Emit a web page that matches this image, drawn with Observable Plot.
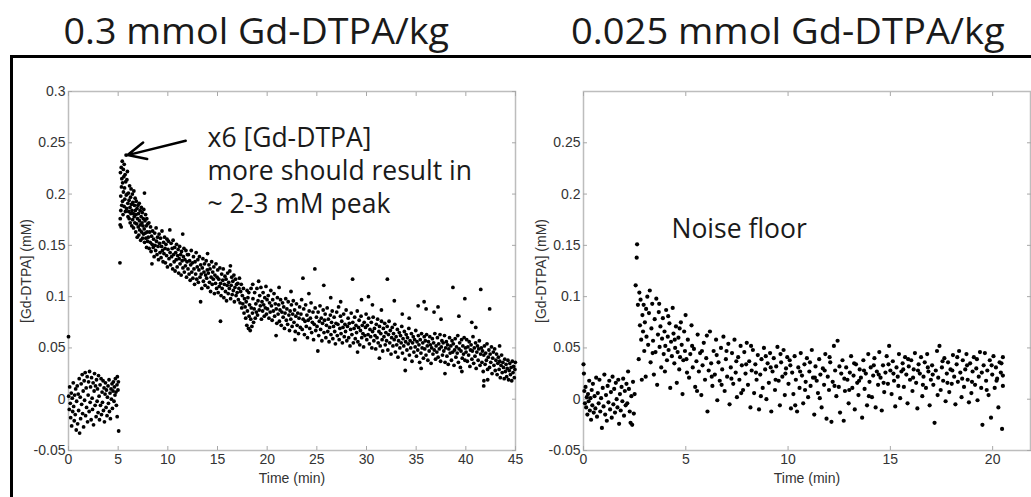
<!DOCTYPE html>
<html><head><meta charset="utf-8">
<script src="https://cdn.jsdelivr.net/npm/d3@7"></script>
<script src="https://cdn.jsdelivr.net/npm/@observablehq/plot@0.6"></script>
<style>
html,body{margin:0;padding:0;background:#fff;}
#wrap{position:relative;width:1031px;height:497px;overflow:hidden;background:#fff;}
.title{position:absolute;top:6px;left:0;font-family:"Open Sans";font-size:36px;color:#1a1a1a;white-space:nowrap;transform-origin:center;line-height:normal;}
#box{position:absolute;left:10px;top:55px;width:1100px;height:520px;border:3px solid #000;box-sizing:border-box;pointer-events:none;}
.panel{position:absolute;top:0;}
</style></head><body>
<div id="wrap">
 <div class="title" id="t1"></div>
 <div class="title" id="t2"></div>
 <div class="panel" id="p1" style="left:0"></div>
 <div class="panel" id="p2" style="left:515px"></div>
 <div id="box"></div>
</div>
<script>
// ---------- tick labels & titles ----------
const yTicks = [-0.05, 0, 0.05, 0.1, 0.15, 0.2, 0.25, 0.3];
const yTicksRight = [-0.05, 0, 0.05, 0.1, 0.15, 0.2, 0.25];
const xTicksLeft = [0, 5, 10, 15, 20, 25, 30, 35, 40, 45];
const xTicksRight = [0, 5, 10, 15, 20];
const titles = ["0.3 mmol Gd-DTPA/kg", "0.025 mmol Gd-DTPA/kg"];

// ---------- left panel: 0.3 mmol/kg  [time (min), Gd-DTPA (mM)] ----------
const leftBaseline = [[0,0.061],[0.02,0.003],[0.08,-0.010],[0.12,0.012],[0.18,-0.004],[0.22,-0.018],[0.28,0.006],[0.32,-0.026],[0.38,0.001],[0.42,-0.012],[0.48,0.016],[0.52,-0.007],[0.58,-0.021],[0.62,0.004],[0.68,-0.015],[0.72,0.010],[0.78,-0.030],[0.82,-0.002],[0.88,0.013],[0.92,-0.024],[0.98,0.005],[1.02,-0.011],[1.08,0.020],[1.12,-0.033],[1.18,0.002],[1.22,-0.019],[1.28,0.015],[1.32,-0.005],[1.38,0.024],[1.42,-0.014],[1.48,0.008],[1.52,-0.027],[1.58,0.018],[1.62,-0.001],[1.68,0.026],[1.72,-0.016],[1.78,0.011],[1.82,-0.008],[1.88,0.022],[1.92,-0.022],[1.98,0.004],[2.02,0.017],[2.08,-0.012],[2.12,0.027],[2.18,-0.003],[2.22,0.012],[2.28,-0.020],[2.32,0.021],[2.38,0.001],[2.42,-0.010],[2.48,0.016],[2.52,-0.025],[2.58,0.008],[2.62,0.025],[2.68,-0.006],[2.72,0.013],[2.78,-0.017],[2.82,0.019],[2.88,-0.002],[2.92,0.010],[2.98,-0.013],[3.02,0.023],[3.08,0.003],[3.12,-0.020],[3.18,0.014],[3.22,-0.006],[3.28,0.020],[3.32,-0.015],[3.38,0.007],[3.42,-0.003],[3.48,0.018],[3.52,-0.011],[3.58,0.011],[3.62,-0.022],[3.68,0.005],[3.72,0.016],[3.78,-0.008],[3.82,0.009],[3.88,-0.016],[3.92,0.002],[3.98,0.013],[4.02,-0.004],[4.08,0.019],[4.12,-0.012],[4.18,0.006],[4.22,-0.019],[4.28,0.010],[4.32,0.000],[4.38,0.015],[4.42,-0.009],[4.48,0.008],[4.52,0.017],[4.58,-0.002],[4.62,0.012],[4.68,0.004],[4.72,0.020],[4.78,0.007],[4.82,-0.006],[4.88,0.014],[4.9,-0.017],[4.92,0.022],[4.98,0.009],[5.02,0.017],[5.05,-0.031]];

const leftPeak = [[5.18,0.133],[5.2,0.17],[5.21,0.176],[5.23,0.221],[5.26,0.198],[5.27,0.184],[5.3,0.168],[5.31,0.226],[5.33,0.207],[5.36,0.189],[5.37,0.215],[5.41,0.232],[5.44,0.193],[5.45,0.211],[5.49,0.18],[5.52,0.224],[5.53,0.202],[5.57,0.217],[5.6,0.188],[5.61,0.229],[5.64,0.206],[5.67,0.195],[5.7,0.219],[5.73,0.183],[5.76,0.212],[5.8,0.238],[5.81,0.199],[5.84,0.186],[5.88,0.214],[5.9,0.2],[5.93,0.222],[5.97,0.191],[5.99,0.178],
[6.03,0.201],[6.06,0.183],[6.1,0.194],[6.11,0.176],[6.15,0.208],[6.19,0.187],[6.21,0.172],[6.25,0.197],[6.28,0.181],[6.3,0.205],[6.34,0.19],[6.37,0.169],[6.39,0.184],[6.43,0.2],[6.46,0.175],[6.48,0.192],[6.53,0.181],[6.55,0.167],[6.58,0.203],[6.62,0.178],[6.64,0.189],[6.68,0.172],[6.71,0.196],[6.73,0.184],[6.77,0.163],[6.8,0.18],[6.82,0.193],[6.86,0.171],[6.9,0.186],[6.92,0.158],[6.95,0.176],[6.99,0.189],[7.02,0.168],[7.05,0.181],[7.08,0.16],[7.12,0.191],[7.14,0.174],[7.17,0.165],[7.21,0.184],[7.24,0.17],[7.27,0.155],[7.31,0.178],[7.33,0.187],[7.36,0.163],[7.4,0.172],[7.43,0.182],[7.46,0.157],[7.49,0.169],[7.53,0.176],[7.55,0.161],[7.58,0.185],[7.62,0.166],[7.65,0.201],[7.66,0.153],[7.7,0.174],[7.73,0.162],[7.76,0.18],[7.79,0.157],[7.83,0.169],[7.86,0.148],[7.88,0.176],[7.92,0.163],[7.96,0.154],[7.98,0.171]];

const leftEarly = [[8.03,0.158],[8.09,0.172],[8.12,0.147],[8.17,0.163],[8.22,0.153],[8.26,0.168],[8.31,0.144],[8.36,0.159],[8.4,0.132],[8.42,0.151],[8.47,0.164],[8.53,0.148],[8.57,0.156],[8.62,0.139],[8.68,0.162],[8.71,0.15],[8.77,0.145],[8.82,0.167],[8.86,0.154],[8.91,0.141],[8.97,0.158],[9.02,0.149],[9.06,0.136],[9.12,0.161],[9.17,0.152],[9.21,0.143],[9.26,0.157],[9.32,0.138],[9.37,0.149],[9.41,0.164],[9.46,0.145],[9.52,0.134],[9.57,0.153],[9.61,0.142],[9.67,0.158],[9.72,0.147],[9.76,0.133],[9.81,0.151],[9.87,0.14],[9.92,0.156],[9.96,0.129],[10.02,0.146],[10.07,0.154],[10.12,0.137],[10.2,0.165],[10.23,0.143],[10.28,0.131],[10.33,0.152],[10.38,0.139],[10.44,0.147],[10.49,0.127],[10.53,0.155],[10.58,0.141],[10.64,0.134],[10.69,0.148],[10.73,0.125],[10.79,0.143],[10.84,0.136],[10.88,0.151],[10.94,0.129],[10.99,0.14],[11.04,0.146],[11.09,0.123],[11.14,0.137],[11.19,0.149],[11.23,0.132],[11.29,0.141],[11.34,0.121],[11.38,0.144],[11.44,0.135],[11.5,0.161],[11.52,0.128],[11.57,0.139],[11.62,0.147],[11.66,0.124],[11.72,0.136],[11.77,0.13],[11.82,0.145],[11.88,0.119],[11.93,0.134],[11.97,0.141],
[12.03,0.127],[12.08,0.141],[12.14,0.122],[12.19,0.135],[12.25,0.116],[12.3,0.131],[12.36,0.145],[12.41,0.124],[12.47,0.133],[12.52,0.118],[12.58,0.139],[12.63,0.127],[12.69,0.112],[12.74,0.134],[12.8,0.122],[12.85,0.143],[12.91,0.117],[12.96,0.129],[13.02,0.136],[13.07,0.114],[13.13,0.126],[13.18,0.139],[13.24,0.119],[13.3,0.095],[13.31,0.131],[13.36,0.122],[13.42,0.108],[13.47,0.128],[13.53,0.137],[13.58,0.115],[13.64,0.124],[13.69,0.132],[13.75,0.111],[13.8,0.121],[13.86,0.135],[13.91,0.118],[13.97,0.126],[14.0,0.142],[14.03,0.109],[14.08,0.123],[14.14,0.131],[14.19,0.114],[14.25,0.127],[14.3,0.105],[14.36,0.119],[14.41,0.134],[14.47,0.112],[14.52,0.124],[14.58,0.117],[14.63,0.129],[14.69,0.103],[14.74,0.121],[14.8,0.113],[14.85,0.132],[14.91,0.108],[14.96,0.119],[15.02,0.126],[15.07,0.104],[15.13,0.117],[15.18,0.11],[15.24,0.128],[15.3,0.076],[15.31,0.113],[15.36,0.101],[15.42,0.122],[15.47,0.108],[15.53,0.116],[15.58,0.127],[15.64,0.099],[15.69,0.112],[15.75,0.12],[15.8,0.105],[15.86,0.117],[15.91,0.096],[15.97,0.111],[16.02,0.123],[16.08,0.103],[16.13,0.114],[16.19,0.108],[16.24,0.125],[16.3,0.13],[16.32,0.098],[16.37,0.111],[16.43,0.119],[16.48,0.102],[16.54,0.115],[16.59,0.106],[16.65,0.121],[16.7,0.095],[16.76,0.109],[16.81,0.117],[16.87,0.101],[16.92,0.112],[16.98,0.104],
[17.04,0.113],[17.1,0.097],[17.16,0.108],[17.21,0.118],[17.27,0.094],[17.33,0.105],[17.39,0.112],[17.44,0.089],[17.5,0.101],[17.55,0.093],[17.61,0.108],[17.67,0.084],[17.72,0.098],[17.78,0.09],[17.84,0.079],[17.89,0.095],[17.95,0.072],[17.98,0.106],[18.01,0.086],[18.06,0.099],[18.12,0.069],[18.15,0.104],[18.18,0.081],[18.23,0.092],[18.29,0.067],[18.35,0.078],[18.38,0.108],[18.4,0.089],[18.46,0.071],[18.52,0.084],[18.55,0.112],[18.57,0.098],[18.63,0.075],[18.69,0.088],[18.74,0.104],[18.8,0.079],[18.86,0.093],[18.91,0.085],[18.97,0.108],[19.03,0.082],[19.08,0.096],[19.14,0.115],[19.2,0.087],[19.25,0.101],[19.31,0.091],[19.37,0.109],[19.42,0.078],[19.48,0.095],[19.54,0.086],[19.59,0.104],[19.65,0.092],[19.71,0.081],[19.76,0.099],[19.82,0.089],[19.88,0.11],[19.93,0.083],[19.99,0.097]];

const leftLate = [[20.04,0.088],[20.11,0.101],[20.18,0.079],[20.24,0.094],[20.3,0.085],[20.37,0.106],[20.43,0.091],[20.5,0.077],[20.56,0.097],[20.62,0.086],[20.69,0.103],[20.75,0.081],[20.82,0.093],[20.9,0.062],[20.91,0.088],[20.97,0.074],[21.03,0.099],[21.1,0.083],[21.16,0.092],[21.2,0.109],[21.23,0.076],[21.29,0.087],[21.35,0.097],[21.42,0.072],[21.48,0.085],[21.55,0.094],[21.61,0.08],[21.67,0.09],[21.74,0.069],[21.8,0.084],[21.87,0.098],[21.93,0.077],[21.99,0.088],[22.06,0.073],[22.12,0.095],[22.19,0.082],[22.25,0.067],[22.31,0.086],[22.38,0.078],[22.4,0.105],[22.44,0.092],[22.51,0.071],[22.57,0.083],[22.63,0.096],[22.7,0.075],[22.76,0.087],[22.8,0.058],[22.83,0.066],[22.89,0.081],[22.95,0.093],[23.02,0.072],[23.08,0.084],[23.15,0.064],[23.21,0.079],[23.27,0.09],[23.34,0.07],[23.4,0.083],[23.47,0.097],[23.53,0.068],[23.6,0.118],[23.62,0.078],[23.68,0.088],[23.75,0.063],[23.81,0.076],[23.87,0.092],[23.94,0.071],[24.0,0.082],[24.06,0.06],[24.13,0.077],[24.2,0.103],[24.23,0.086],[24.29,0.069],[24.35,0.079],[24.42,0.094],[24.48,0.065],[24.55,0.075],[24.61,0.085],[24.67,0.058],[24.74,0.073],[24.8,0.127],[24.83,0.089],[24.89,0.067],[24.96,0.08],[25.02,0.071],[25.1,0.047],[25.13,0.085],[25.19,0.062],[25.25,0.076],[25.32,0.091],[25.38,0.068],[25.45,0.079],[25.51,0.057],[25.57,0.074],[25.64,0.087],[25.7,0.111],[25.72,0.065],[25.78,0.077],[25.84,0.083],[25.91,0.06],[25.97,0.072],[26.04,0.089],[26.1,0.066],[26.16,0.078],[26.23,0.056],[26.29,0.07],[26.36,0.082],[26.4,0.099],[26.42,0.063],[26.48,0.075],[26.55,0.086],[26.61,0.059],[26.68,0.071],[26.74,0.08],[26.8,0.066],[26.87,0.054],[26.93,0.074],[27.0,0.085],[27.06,0.062],[27.12,0.073],[27.19,0.09],[27.25,0.058],[27.32,0.069],[27.38,0.081],[27.4,0.095],[27.44,0.064],[27.51,0.076],[27.57,0.055],[27.63,0.07],[27.7,0.083],[27.76,0.061],[27.83,0.073],[27.89,0.066],[27.95,0.087],[28.02,0.057],[28.08,0.071],[28.15,0.079],[28.21,0.06],[28.27,0.074],[28.34,0.052],[28.4,0.068],[28.46,0.084],[28.53,0.063],[28.6,0.117],[28.62,0.075],[28.68,0.055],[28.75,0.069],[28.81,0.08],[28.87,0.059],[28.94,0.072],[29.0,0.065],[29.07,0.086],[29.1,0.046],[29.13,0.056],[29.2,0.07],[29.26,0.077],[29.32,0.053],[29.39,0.067],[29.45,0.081],[29.5,0.097],[29.52,0.06],[29.58,0.072],[29.64,0.064],[29.71,0.051],[29.77,0.075],[29.84,0.062],[29.9,0.07],[29.96,0.083],
[30.03,0.058],[30.09,0.072],[30.16,0.063],[30.2,0.1],[30.22,0.079],[30.29,0.054],[30.35,0.068],[30.42,0.061],[30.48,0.075],[30.54,0.05],[30.6,0.092],[30.61,0.066],[30.67,0.08],[30.74,0.057],[30.8,0.069],[30.86,0.062],[30.93,0.049],[30.99,0.073],[31.06,0.06],[31.12,0.078],[31.18,0.055],[31.25,0.066],[31.3,0.04],[31.31,0.071],[31.38,0.052],[31.44,0.064],[31.5,0.087],[31.51,0.076],[31.57,0.058],[31.63,0.047],[31.7,0.069],[31.76,0.061],[31.83,0.074],[31.89,0.053],[31.95,0.065],[32.02,0.057],[32.08,0.071],[32.1,0.117],[32.15,0.048],[32.21,0.063],[32.27,0.076],[32.34,0.055],[32.4,0.067],[32.47,0.044],[32.53,0.06],[32.59,0.07],[32.66,0.052],[32.72,0.064],[32.79,0.058],[32.8,0.096],[32.85,0.073],[32.91,0.046],[32.98,0.061],[33.04,0.053],[33.11,0.068],[33.17,0.041],[33.23,0.057],[33.3,0.065],[33.36,0.05],[33.43,0.062],[33.49,0.055],[33.55,0.071],[33.6,0.083],[33.62,0.045],[33.68,0.059],[33.75,0.052],[33.81,0.066],[33.88,0.039],[33.9,0.028],[33.94,0.056],[34.0,0.063],[34.07,0.048],[34.13,0.06],[34.2,0.054],[34.26,0.069],[34.3,0.079],[34.32,0.043],[34.39,0.057],[34.45,0.05],[34.52,0.064],[34.58,0.037],[34.64,0.055],[34.71,0.061],[34.77,0.046],[34.84,0.058],[34.9,0.051],[34.96,0.067],[35.03,0.042],[35.09,0.056],[35.16,0.048],[35.2,0.091],[35.22,0.062],[35.28,0.053],[35.35,0.036],[35.41,0.058],[35.48,0.045],[35.5,0.03],[35.54,0.064],[35.6,0.05],[35.67,0.055],[35.73,0.04],[35.8,0.095],[35.81,0.061],[35.86,0.049],[35.92,0.057],[35.99,0.043],[36.0,0.088],[36.05,0.063],[36.12,0.052],[36.18,0.038],[36.24,0.056],[36.31,0.047],[36.37,0.061],[36.44,0.053],[36.5,0.035],[36.56,0.05],[36.63,0.059],[36.69,0.044],[36.76,0.055],[36.8,0.085],[36.82,0.048],[36.88,0.064],[36.95,0.039],[37.01,0.052],[37.08,0.046],[37.14,0.06],[37.2,0.09],[37.21,0.041],[37.27,0.054],[37.33,0.049],[37.4,0.063],[37.46,0.037],[37.5,0.078],[37.53,0.051],[37.59,0.057],[37.65,0.043],[37.72,0.055],[37.78,0.047],[37.85,0.062],[37.9,0.025],[37.91,0.036],[37.97,0.05],[38.04,0.056],[38.1,0.042],[38.17,0.053],[38.23,0.034],[38.29,0.049],[38.36,0.06],[38.42,0.045],[38.49,0.052],[38.55,0.038],[38.61,0.057],[38.68,0.046],[38.7,0.109],[38.74,0.054],[38.81,0.033],[38.87,0.048],[38.93,0.059],[39.0,0.041],[39.06,0.051],[39.13,0.045],[39.19,0.062],[39.25,0.036],[39.3,0.081],[39.32,0.049],[39.38,0.055],[39.45,0.031],[39.51,0.047],[39.57,0.058],[39.6,0.027],[39.64,0.04],[39.7,0.052],[39.77,0.044],[39.83,0.06],[39.9,0.098],[39.91,0.038],[39.96,0.05],
[40.02,0.046],[40.09,0.058],[40.15,0.037],[40.21,0.051],[40.28,0.043],[40.34,0.056],[40.41,0.032],[40.47,0.048],[40.53,0.053],[40.6,0.075],[40.61,0.039],[40.66,0.047],[40.72,0.061],[40.79,0.035],[40.85,0.05],[40.92,0.042],[40.98,0.055],[41.0,0.07],[41.04,0.03],[41.11,0.046],[41.17,0.052],[41.24,0.038],[41.3,0.049],[41.36,0.057],[41.43,0.033],[41.49,0.044],[41.5,0.107],[41.56,0.05],[41.62,0.036],[41.68,0.047],[41.75,0.027],[41.8,0.013],[41.82,0.018],[41.81,0.043],[41.87,0.052],[41.94,0.034],[42.0,0.045],[42.07,0.038],[42.13,0.054],[42.2,0.019],[42.19,0.029],[42.26,0.041],[42.32,0.048],[42.39,0.031],[42.4,0.088],[42.45,0.044],[42.51,0.036],[42.58,0.051],[42.64,0.025],[42.71,0.04],[42.77,0.046],[42.83,0.033],[42.9,0.049],[42.96,0.028],[43.03,0.038],[43.09,0.044],[43.15,0.024],[43.22,0.035],[43.28,0.041],[43.35,0.029],[43.4,0.052],[43.41,0.037],[43.47,0.021],[43.54,0.033],[43.6,0.043],[43.66,0.026],[43.73,0.036],[43.79,0.031],[43.86,0.02],[43.92,0.039],[43.98,0.027],[44.05,0.034],[44.11,0.022],[44.17,0.03],[44.24,0.038],[44.3,0.019],[44.37,0.028],[44.43,0.035],[44.49,0.024],[44.56,0.031],[44.62,0.018],[44.68,0.037],[44.75,0.026],[44.81,0.032],[44.88,0.021],[44.94,0.029],[44.98,0.036]];

// ---------- right panel: 0.025 mmol/kg ----------
const rightBaseline = [[0.0,0.034],[0.02,0.025],[0.04,0.008],[0.07,-0.004],[0.1,0.012],[0.13,-0.008],[0.16,0.002],[0.19,-0.015],[0.22,0.005],[0.25,-0.002],[0.28,0.018],[0.31,-0.011],[0.34,0.001],[0.37,-0.02],[0.4,0.009],[0.43,-0.006],[0.46,0.015],[0.5,-0.013],[0.54,0.003],[0.58,-0.009],[0.62,0.021],[0.66,-0.017],[0.7,0.006],[0.74,-0.004],[0.78,0.019],[0.82,-0.012],[0.86,0.001],[0.9,-0.028],[0.94,0.011],[0.98,-0.007],[1.02,0.024],[1.06,-0.015],[1.1,0.004],[1.14,-0.021],[1.18,0.013],[1.22,-0.003],[1.26,0.018],[1.3,-0.01],[1.34,0.007],[1.38,-0.018],[1.42,0.022],[1.46,-0.005],[1.5,0.01],[1.54,-0.013],[1.58,0.016],[1.62,0.0],[1.66,-0.008],[1.7,0.019],[1.74,-0.024],[1.78,0.005],[1.82,-0.011],[1.86,0.012],[1.9,-0.002],[1.94,0.02],[1.98,-0.016],[2.02,0.008],[2.06,-0.006],[2.1,0.015],[2.14,-0.004],[2.18,0.027],[2.22,0.01],[2.26,-0.012],[2.3,-0.023],[2.34,0.003],[2.38,-0.025],[2.42,0.017],[2.46,-0.014],[2.5,0.005]];

const rightWashout = [[2.55,0.111],[2.6,0.138],[2.62,0.151],[2.66,0.092],[2.7,0.039],[2.73,0.104],[2.76,0.072],[2.79,0.097],[2.82,0.058],[2.85,0.019],[2.88,0.082],[2.91,0.066],[2.94,0.092],[2.97,0.047],[3.0,0.075],[3.04,0.022],[3.08,0.061],[3.12,0.1],[3.16,0.053],[3.2,0.084],[3.24,0.106],[3.28,0.036],[3.32,0.069],[3.36,0.093],[3.4,0.057],[3.44,0.024],[3.48,0.078],[3.52,0.046],[3.56,0.098],[3.6,0.014],[3.64,0.063],[3.68,0.085],[3.72,0.051],[3.76,0.071],[3.8,0.031],[3.84,0.059],[3.88,0.079],[3.92,0.044],[3.96,0.066],[4.0,0.052],[4.04,0.087],[4.08,0.038],[4.12,0.061],[4.16,0.048],[4.2,0.074],[4.24,0.011],[4.28,0.056],[4.32,0.042],[4.36,0.089],[4.4,0.064],[4.44,0.035],[4.48,0.05],[4.52,0.071],[4.56,0.016],[4.6,0.046],[4.64,0.06],[4.68,0.029],[4.72,0.041],[4.76,0.075],[4.8,0.053],[4.84,0.005],[4.88,0.038],[4.92,0.066],[4.96,0.047],[4.99,0.082],
[5.03,0.039],[5.1,0.058],[5.16,0.021],[5.22,0.044],[5.28,0.072],[5.34,0.031],[5.4,0.049],[5.46,0.012],[5.52,0.037],[5.58,0.063],[5.64,0.027],[5.7,0.045],[5.76,0.004],[5.82,0.033],[5.88,0.055],[5.94,0.019],[6.0,0.04],[6.06,-0.012],[6.12,0.028],[6.18,0.066],[6.24,0.035],[6.3,0.013],[6.36,0.047],[6.42,0.024],[6.48,0.058],[6.54,-0.001],[6.6,0.036],[6.66,0.018],[6.72,0.05],[6.78,0.029],[6.84,0.061],[6.9,0.008],[6.96,0.039],[7.02,0.022],[7.08,0.054],[7.14,-0.005],[7.2,0.031],[7.26,0.045],[7.32,0.015],[7.38,0.058],[7.44,0.026],[7.5,0.002],[7.56,0.041],[7.62,0.019],[7.68,0.052],[7.74,0.033],[7.8,0.009],[7.86,0.046],[7.92,0.025],[7.98,0.055],[8.04,0.014],[8.1,0.037],[8.16,-0.008],[8.22,0.028],[8.28,0.048],[8.34,0.006],[8.4,0.034],[8.46,0.019],[8.52,0.043],[8.58,-0.01],[8.64,0.024],[8.7,0.039],[8.76,0.011],[8.82,0.05],[8.88,0.029],[8.94,0.0],[9.0,0.035],[9.06,0.016],[9.12,0.045],[9.18,-0.012],[9.24,0.027],[9.3,0.04],[9.36,0.009],[9.42,0.032],[9.48,0.051],[9.54,0.018],[9.6,-0.006],[9.66,0.036],[9.72,0.022],[9.78,0.048],[9.84,0.004],[9.9,0.03],[9.96,0.041],
[10.02,0.015],[10.08,0.038],[10.14,-0.009],[10.2,0.026],[10.26,0.005],[10.32,0.042],[10.38,0.019],[10.44,-0.012],[10.5,0.031],[10.56,0.011],[10.62,0.045],[10.68,0.023],[10.74,-0.004],[10.8,0.034],[10.86,0.017],[10.92,0.04],[10.98,0.002],[11.04,0.027],[11.1,0.013],[11.16,0.048],[11.22,0.021],[11.28,-0.015],[11.34,0.032],[11.4,0.018],[11.46,0.006],[11.52,0.039],[11.58,0.024],[11.64,-0.008],[11.7,0.03],[11.76,0.014],[11.82,0.044],[11.88,-0.019],[11.94,0.022],[12.0,0.009],[12.06,0.036],[12.12,-0.022],[12.18,0.017],[12.24,0.052],[12.3,0.028],[12.36,0.003],[12.42,0.057],[12.48,0.012],[12.54,-0.013],[12.6,0.025],[12.66,0.038],[12.72,-0.021],[12.78,0.008],[12.84,0.031],[12.9,0.019],[12.96,-0.004],[13.02,0.026],[13.08,0.042],[13.14,0.011],[13.2,0.023],[13.26,-0.01],[13.32,0.034],[13.38,0.016],[13.44,0.004],[13.5,0.029],[13.56,0.021],[13.62,-0.018],[13.68,0.038],[13.74,0.01],[13.8,0.025],[13.86,-0.006],[13.92,0.044],[13.98,0.017],[14.04,0.031],[14.1,0.002],[14.16,0.023],[14.22,0.04],[14.28,-0.008],[14.34,0.027],[14.4,0.014],[14.46,0.046],[14.52,0.021],[14.58,-0.011],[14.64,0.033],[14.7,0.007],[14.76,0.026],[14.82,0.042],[14.88,0.015],[14.94,0.052],
[15.0,0.028],[15.06,0.005],[15.12,0.037],[15.18,0.018],[15.24,-0.007],[15.3,0.031],[15.36,0.022],[15.42,0.044],[15.48,0.001],[15.54,0.027],[15.6,0.035],[15.66,0.012],[15.72,0.041],[15.78,0.024],[15.84,-0.004],[15.9,0.032],[15.96,0.019],[16.02,0.038],[16.08,0.008],[16.14,0.029],[16.2,0.045],[16.26,0.016],[16.32,-0.009],[16.38,0.034],[16.44,0.025],[16.5,0.041],[16.56,0.003],[16.62,0.022],[16.68,0.036],[16.74,0.011],[16.8,0.044],[16.86,0.027],[16.92,-0.006],[16.98,0.019],[17.04,0.033],[17.1,0.014],[17.16,-0.023],[17.22,0.028],[17.28,0.047],[17.34,0.021],[17.4,0.052],[17.46,0.009],[17.52,0.031],[17.58,0.018],[17.64,0.04],[17.7,-0.002],[17.76,0.025],[17.82,0.036],[17.88,0.007],[17.94,0.029],[18.0,0.015],[18.06,0.043],[18.12,0.022],[18.18,-0.005],[18.24,0.034],[18.3,0.017],[18.36,0.047],[18.42,0.026],[18.48,0.002],[18.54,0.038],[18.6,0.012],[18.66,0.029],[18.72,0.044],[18.78,0.019],[18.84,-0.003],[18.9,0.035],[18.96,0.006],[19.02,0.027],[19.08,0.041],[19.14,0.014],[19.2,0.03],[19.26,-0.001],[19.32,0.022],[19.38,0.046],[19.44,0.011],[19.5,-0.025],[19.56,0.033],[19.62,0.045],[19.68,0.018],[19.74,0.028],[19.8,0.004],[19.86,0.038],[19.92,-0.018],[19.98,0.024],[20.04,0.042],[20.1,0.011],[20.16,0.031],[20.22,0.02],[20.28,-0.008],[20.34,0.036],[20.4,0.026],[20.46,-0.029],[20.5,0.041],[20.5,0.013],[20.5,0.023]];

const rightExtra = [[3.06,0.088],[3.38,0.045],[3.7,0.093],[3.98,0.027],[4.14,0.081],[4.46,0.058],[4.7,0.069],[5.06,0.026],[5.31,0.052],[5.55,0.008],[5.79,0.047],[6.03,0.062],[6.27,0.022],[6.51,0.043],[6.75,0.014],[6.99,0.047],[7.23,0.02],[7.47,0.037],[7.71,0.006],[7.95,0.034],[8.19,0.052],[8.43,0.026],[8.67,0.003],[8.91,0.042],[9.15,0.031],[9.39,0.019],[9.63,0.044],[9.87,0.025],[10.11,0.033],[10.35,-0.006],[10.59,0.027],[10.83,0.009],[11.07,0.036],[11.31,0.021],[11.55,0.001],[11.79,0.028],[12.03,0.041],[12.27,0.013],[12.51,0.032],[12.75,0.02],[12.99,0.009],[13.23,0.035],[13.47,0.018],[13.71,0.028],[13.95,0.003],[14.19,0.033],[14.43,0.024],[14.67,0.016],[14.91,0.034],[15.15,0.025],[15.39,0.013],[15.63,0.029],[15.87,0.039],[16.11,0.021],[16.35,0.028],[16.59,0.014],[16.83,0.031],[17.07,0.024],[17.31,0.004],[17.55,0.037],[17.79,0.016],[18.03,0.028],[18.27,0.041],[18.51,0.02],[18.75,0.033],[18.99,0.017],[19.23,0.039],[19.47,0.026],[19.71,0.009],[19.95,0.033],[20.19,0.018],[20.43,0.035]];

// ---------- annotations ----------
const leftNote = [{x: 14.0, y: 0.2243, text: "x6 [Gd-DTPA]\nmore should result in\n~ 2-3 mM peak"}];
const leftArrow = [{x1: 11.8, y1: 0.252, x2: 5.95, y2: 0.238}];
const rightNote = [{x: 4.3, y: 0.168, text: "Noise floor"}];

const fmt = d => String(Math.round(d * 100) / 100);
const axisFont = "Liberation Sans, Arial, sans-serif";

function panel({width, marginRight, xDomain, xTicks, yTickLabels, points, r, extra}) {
  return Plot.plot({
    width, height: 497,
    marginLeft: 68, marginRight, marginTop: 91, marginBottom: 47,
    x: {domain: xDomain, axis: null},
    y: {domain: [-0.05, 0.3], axis: null},
    style: {background: "transparent", overflow: "visible"},
    marks: [
      Plot.frame({stroke: "#bdbdbd", strokeWidth: 1.5}),
      Plot.axisX(xTicks, {anchor: "bottom", tickSize: -4, tickPadding: 8, stroke: "#a8a8a8", fill: "#333",
        fontSize: 14, fontFamily: axisFont, tickFormat: fmt,
        label: "Time (min)", labelAnchor: "center", labelOffset: 32, labelArrow: "none"}),
      Plot.axisX(xTicks, {anchor: "top", tickSize: -4, stroke: "#a8a8a8", fill: "none", label: null}),
      Plot.axisY(yTickLabels, {anchor: "left", tickSize: -4, tickPadding: 7, stroke: "#a8a8a8", fill: "#333",
        fontSize: 14, fontFamily: axisFont, tickFormat: fmt,
        label: "[Gd-DTPA] (mM)", labelAnchor: "center", labelOffset: 47, labelArrow: "none"}),
      Plot.axisY(yTickLabels, {anchor: "right", tickSize: -4, stroke: "#a8a8a8", fill: "none", label: null}),
      Plot.dot(points, {x: d => d[0], y: d => d[1], r, fill: "#000", stroke: null}),
      ...extra
    ]
  });
}

const noteStyle = {x: "x", y: "y", text: "text", textAnchor: "start", fontSize: 26.5,
  fontFamily: "Open Sans", fill: "#1a1a1a", lineHeight: 1.25};

document.getElementById("p1").appendChild(panel({
  width: 540, marginRight: 25, xDomain: [0, 45], xTicks: xTicksLeft, yTickLabels: yTicks,
  points: leftBaseline.concat(leftPeak, leftEarly, leftLate), r: 1.9,
  extra: [
    Plot.arrow(leftArrow, {x1: "x1", y1: "y1", x2: "x2", y2: "y2", stroke: "#000", strokeWidth: 2.5, headLength: 15, headAngle: 50}),
    Plot.text(leftNote, noteStyle)
  ]
}));

document.getElementById("p2").appendChild(panel({
  width: 516, marginRight: 1, xDomain: [0, 21.85], xTicks: xTicksRight, yTickLabels: yTicksRight,
  points: rightBaseline.concat(rightWashout, rightExtra), r: 2.1,
  extra: [Plot.text(rightNote, noteStyle)]
}));

function placeTitle(id, text, cx, w) {
  const el = document.getElementById(id);
  el.textContent = text;
  const bw = el.offsetWidth;
  el.style.left = (cx - bw / 2) + "px";
  el.style.transform = `scaleX(${w / bw})`;
}
placeTitle("t1", titles[0], 256, 386);
placeTitle("t2", titles[1], 788, 434);
</script>
</body></html>
